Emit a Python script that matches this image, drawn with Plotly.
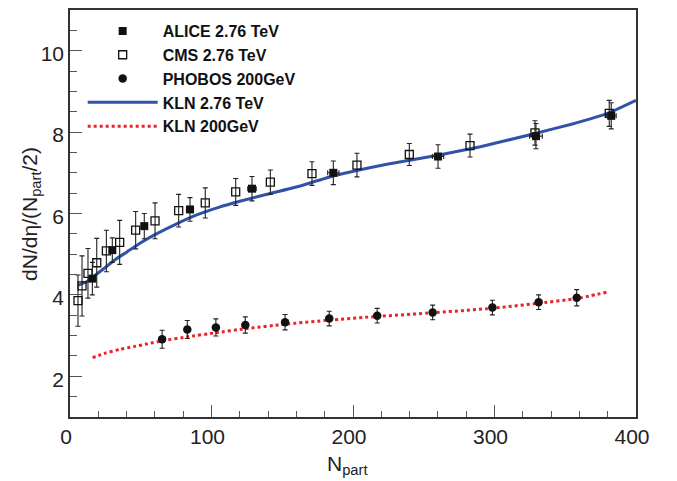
import plotly.graph_objects as go

# ---- data ----
alice_n = [15.8, 29.9, 52.5, 84.8, 128.6, 186.1, 260.1, 329.3, 382.5]
alice_y = [4.40, 5.10, 5.69, 6.10, 6.61, 7.00, 7.40, 7.90, 8.40]
alice_ey = [0.40, 0.30, 0.31, 0.29, 0.30, 0.29, 0.29, 0.31, 0.32]
alice_ex = [1.0, 1.5, 2.0, 2.5, 3.0, 4.0, 4.0, 4.5, 3.5]

cms_n = [5.65, 8.5, 12.7, 18.9, 25.7, 35.1, 46.4, 60.1, 76.8, 95.6, 117.1, 141.6,
         171.0, 202.8, 239.8, 282.7, 328.6, 381.1]
cms_y = [3.86, 4.22, 4.53, 4.79, 5.08, 5.29, 5.59, 5.82, 6.07, 6.26, 6.53, 6.77,
         6.98, 7.19, 7.45, 7.67, 7.98, 8.46]
cms_ey = [0.63, 0.74, 0.61, 0.60, 0.51, 0.54, 0.46, 0.44, 0.40, 0.37, 0.33, 0.30,
          0.29, 0.29, 0.27, 0.28, 0.30, 0.32]

phobos_n = [65.1, 82.9, 103.1, 123.9, 152.0, 183.2, 217.1, 256.3, 298.5, 331.2, 358.1]
phobos_y = [2.91, 3.15, 3.20, 3.26, 3.33, 3.42, 3.49, 3.57, 3.69, 3.82, 3.93]
phobos_ey = [0.22, 0.22, 0.21, 0.20, 0.19, 0.18, 0.18, 0.18, 0.18, 0.18, 0.20]

kln276_n = [6, 12, 18, 24, 32, 40, 50, 60, 75, 90, 105, 120, 140, 160, 186, 224,
            260, 290, 328, 355, 380, 400]
kln276_y = [4.24, 4.33, 4.49, 4.65, 4.87, 5.05, 5.28, 5.48, 5.74, 5.97, 6.15, 6.30,
            6.48, 6.65, 6.92, 7.21, 7.43, 7.64, 7.96, 8.20, 8.46, 8.78]

kln200_n = [16, 25, 35, 45, 55, 65, 83, 103, 124, 152, 183, 217, 256, 298, 330, 358, 380]
kln200_y = [2.46, 2.57, 2.66, 2.73, 2.80, 2.87, 2.97, 3.07, 3.17, 3.28, 3.38, 3.47,
            3.56, 3.67, 3.79, 3.91, 4.07]

FONT = "Liberation Sans, Arial, Helvetica, sans-serif"
ERRC = "#222222"

fig = go.Figure()

fig.add_trace(go.Scatter(
    x=kln276_n, y=kln276_y, mode="lines", name="KLN 2.76 TeV", legendrank=4,
    line=dict(color="#3152a8", width=3, shape="spline", smoothing=0.4),
))
fig.add_trace(go.Scatter(
    x=kln200_n, y=kln200_y, mode="lines", name="KLN 200GeV", legendrank=5,
    line=dict(color="#ec2227", width=3, dash="dot", shape="spline", smoothing=0.4),
))
fig.add_trace(go.Scatter(
    x=cms_n, y=cms_y, mode="markers", name="CMS 2.76 TeV", legendrank=2,
    marker=dict(symbol="square-open", size=8, color="#111111", line=dict(width=1.3, color="#111111")),
    error_y=dict(type="data", array=cms_ey, color=ERRC, thickness=1.1, width=2.5),
))
fig.add_trace(go.Scatter(
    x=alice_n, y=alice_y, mode="markers", name="ALICE 2.76 TeV", legendrank=1,
    marker=dict(symbol="square", size=8, color="#111111"),
    error_y=dict(type="data", array=alice_ey, color=ERRC, thickness=1.1, width=2.5),
    error_x=dict(type="data", array=alice_ex, color=ERRC, thickness=1.1, width=2.5),
))
fig.add_trace(go.Scatter(
    x=phobos_n, y=phobos_y, mode="markers", name="PHOBOS 200GeV", legendrank=3,
    marker=dict(symbol="circle", size=8.5, color="#111111"),
    error_y=dict(type="data", array=phobos_ey, color=ERRC, thickness=1.1, width=2.5),
))

axis_common = dict(
    showgrid=False, zeroline=False, showline=True, linecolor="#333333", linewidth=1.5,
    mirror=True, ticks="inside", tickcolor="#555555", tickwidth=1.2,
    tickfont=dict(family=FONT, size=21, color="#222222"),
)

fig.update_xaxes(
    range=[0, 400], dtick=100, tick0=0, ticklen=12, ticklabelshift=-4,
    minor=dict(dtick=20, ticks="inside", ticklen=6, tickcolor="#555555", tickwidth=1.2),
    **axis_common,
)
fig.update_yaxes(
    range=[1, 11], dtick=2, tick0=0, ticklen=12, ticklabelshift=3,
    minor=dict(dtick=0.5, ticks="inside", ticklen=7, tickcolor="#555555", tickwidth=1.2),
    **axis_common,
)

fig.add_annotation(
    text="dN/dη/(N<sub>part</sub>/2)", textangle=-90, showarrow=False,
    xref="paper", yref="paper", x=-0.07, y=0.5, xanchor="center", yanchor="middle",
    font=dict(family=FONT, size=21, color="#222222"),
)
fig.add_annotation(
    text="N<sub>part</sub>", showarrow=False,
    xref="paper", yref="paper", x=0.49, y=-0.08, xanchor="center", yanchor="top",
    font=dict(family=FONT, size=21, color="#222222"),
)

fig.update_layout(
    width=677, height=481,
    margin=dict(l=70, r=41, t=8, b=64),
    paper_bgcolor="white", plot_bgcolor="white",
    showlegend=True,
    legend=dict(
        x=0.0224, y=0.99, xanchor="left", yanchor="top",
        bgcolor="rgba(0,0,0,0)", borderwidth=0, itemwidth=70,
        font=dict(family=FONT, size=16, color="#111111", weight="bold"),
        tracegroupgap=0,
    ),
)

fig.write_html("out.html")
